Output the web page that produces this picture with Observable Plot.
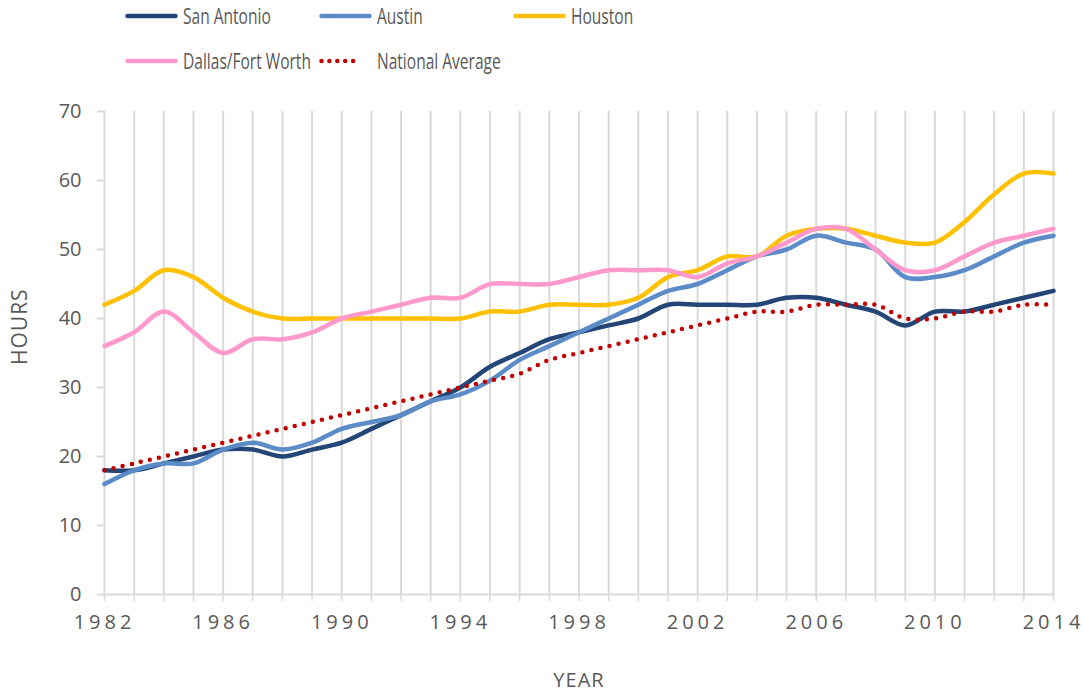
<!DOCTYPE html>
<html>
<head>
<meta charset="utf-8">
<script src="https://cdn.jsdelivr.net/npm/d3@7"></script>
<script src="https://cdn.jsdelivr.net/npm/@observablehq/plot@0.6"></script>
<style>
  body { margin: 0; background: #fff; }
  #legend { position: relative; width: 1083px; height: 90px; font-family: "Open Sans", sans-serif; font-size: 21px; color: #595959; }
  .lg-item { position: absolute; height: 30px; display: flex; align-items: center; white-space: nowrap; }
  .lg-item svg { display: block; margin-right: 5px; }
  .lg-item span { display: inline-block; transform: scaleX(0.74); transform-origin: left center; }
  #chart svg { display: block; }
</style>
</head>
<body>
<div id="legend"></div>
<div id="chart"></div>
<script>
// ---- data ----
const years = [1982,1983,1984,1985,1986,1987,1988,1989,1990,1991,1992,1993,1994,1995,1996,1997,1998,1999,2000,2001,2002,2003,2004,2005,2006,2007,2008,2009,2010,2011,2012,2013,2014];
const sanAntonio = [18,18,19,20,21,21,20,21,22,24,26,28,30,33,35,37,38,39,40,42,42,42,42,43,43,42,41,39,41,41,42,43,44];
const austin     = [16,18,19,19,21,22,21,22,24,25,26,28,29,31,34,36,38,40,42,44,45,47,49,50,52,51,50,46,46,47,49,51,52];
const houston    = [42,44,47,46,43,41,40,40,40,40,40,40,40,41,41,42,42,42,43,46,47,49,49,52,53,53,52,51,51,54,58,61,61];
const dallas     = [36,38,41,38,35,37,37,38,40,41,42,43,43,45,45,45,46,47,47,47,46,48,49,51,53,53,50,47,47,49,51,52,53];
const national   = [18,19,20,21,22,23,24,25,26,27,28,29,30,31,32,34,35,36,37,38,39,40,41,41,42,42,42,40,40,41,41,42,42];
const seriesNames  = ["San Antonio", "Austin", "Houston", "Dallas/Fort Worth", "National Average"];
const seriesValues = [sanAntonio, austin, houston, dallas, national];
const seriesColors = ["#234677", "#5B8CC8", "#FFC000", "#FF99CC", "#C00000"];
const xTickLabels = [1982,1986,1990,1994,1998,2002,2006,2010,2014];
const yTickValues = [0,10,20,30,40,50,60,70];
const xTitle = "YEAR";
const yTitle = "HOURS";

// ---- long table ----
const rows = [];
seriesNames.forEach((name, i) => {
  years.forEach((yr, j) => rows.push({series: name, year: yr, value: seriesValues[i][j]}));
});

// ---- legend ----
const legendPos = [
  {left: 125, top: 1},
  {left: 319, top: 1},
  {left: 513, top: 1},
  {left: 125, top: 46},
  {left: 319, top: 46}
];
const legend = document.getElementById("legend");
seriesNames.forEach((name, i) => {
  const item = document.createElement("div");
  item.className = "lg-item";
  item.style.left = legendPos[i].left + "px";
  item.style.top = legendPos[i].top + "px";
  const dotted = i === 4;
  const sw = dotted
    ? `<svg width="53" height="10"><line x1="2.5" y1="5" x2="42" y2="5" stroke="${seriesColors[i]}" stroke-width="4.5" stroke-linecap="round" stroke-dasharray="0 7.9"/></svg>`
    : `<svg width="53" height="10"><line x1="2.5" y1="5" x2="50.5" y2="5" stroke="${seriesColors[i]}" stroke-width="4.5" stroke-linecap="round"/></svg>`;
  item.innerHTML = sw + `<span>${name}</span>`;
  legend.appendChild(item);
});

// ---- chart ----
const isDotted = d => d === "National Average";
const chart = Plot.plot({
  width: 1083,
  height: 606,
  marginLeft: 104,
  marginRight: 30,
  marginTop: 21,
  marginBottom: 102,
  style: {fontFamily: "'Open Sans', sans-serif", fontSize: "20px", color: "#595959", background: "#fff"},
  x: {domain: [1982, 2014]},
  y: {domain: [0, 70]},
  color: {domain: seriesNames, range: seriesColors},
  marks: [
    Plot.ruleX(years, {y1: 0, y2: 70, stroke: "#d9d9d9", strokeWidth: 2}),
    Plot.ruleY([0], {stroke: "#d9d9d9", strokeWidth: 2}),
    Plot.axisX(years, {tickSize: 7, text: null, stroke: "#d9d9d9", strokeWidth: 1.5, label: null}),
    Plot.axisX(xTickLabels, {tickSize: 0, tickPadding: 20, tickFormat: d => String(d), fill: "#595959", label: null}),
    Plot.axisY(yTickValues, {tickSize: 7, tickPadding: 16, stroke: "#d9d9d9", strokeWidth: 2, fill: "#595959", label: null}),
    Plot.text([xTitle], {frameAnchor: "bottom", dy: 86, fill: "#595959", fontSize: 20, lineAnchor: "middle"}),
    Plot.text([yTitle], {frameAnchor: "left", dx: -84, dy: 12, rotate: -90, fill: "#595959", fontSize: 21, lineAnchor: "middle"}),
    Plot.line(rows.filter(d => !isDotted(d.series)), {
      x: "year", y: "value", z: "series", stroke: "series",
      strokeWidth: 4.5, curve: "catmull-rom", strokeLinecap: "round", strokeLinejoin: "round"
    }),
    Plot.line(rows.filter(d => isDotted(d.series)), {
      x: "year", y: "value", z: "series", stroke: "series",
      strokeWidth: 4.5, curve: "catmull-rom", strokeLinecap: "round", strokeDasharray: "0 9.3"
    })
  ]
});
document.getElementById("chart").appendChild(chart);
d3.select(chart).selectAll('g[aria-label="x-axis tick label"] text').style("letter-spacing", "4px");
d3.select(chart).selectAll('g[aria-label="text"] text').style("letter-spacing", "1px");
</script>
</body>
</html>
